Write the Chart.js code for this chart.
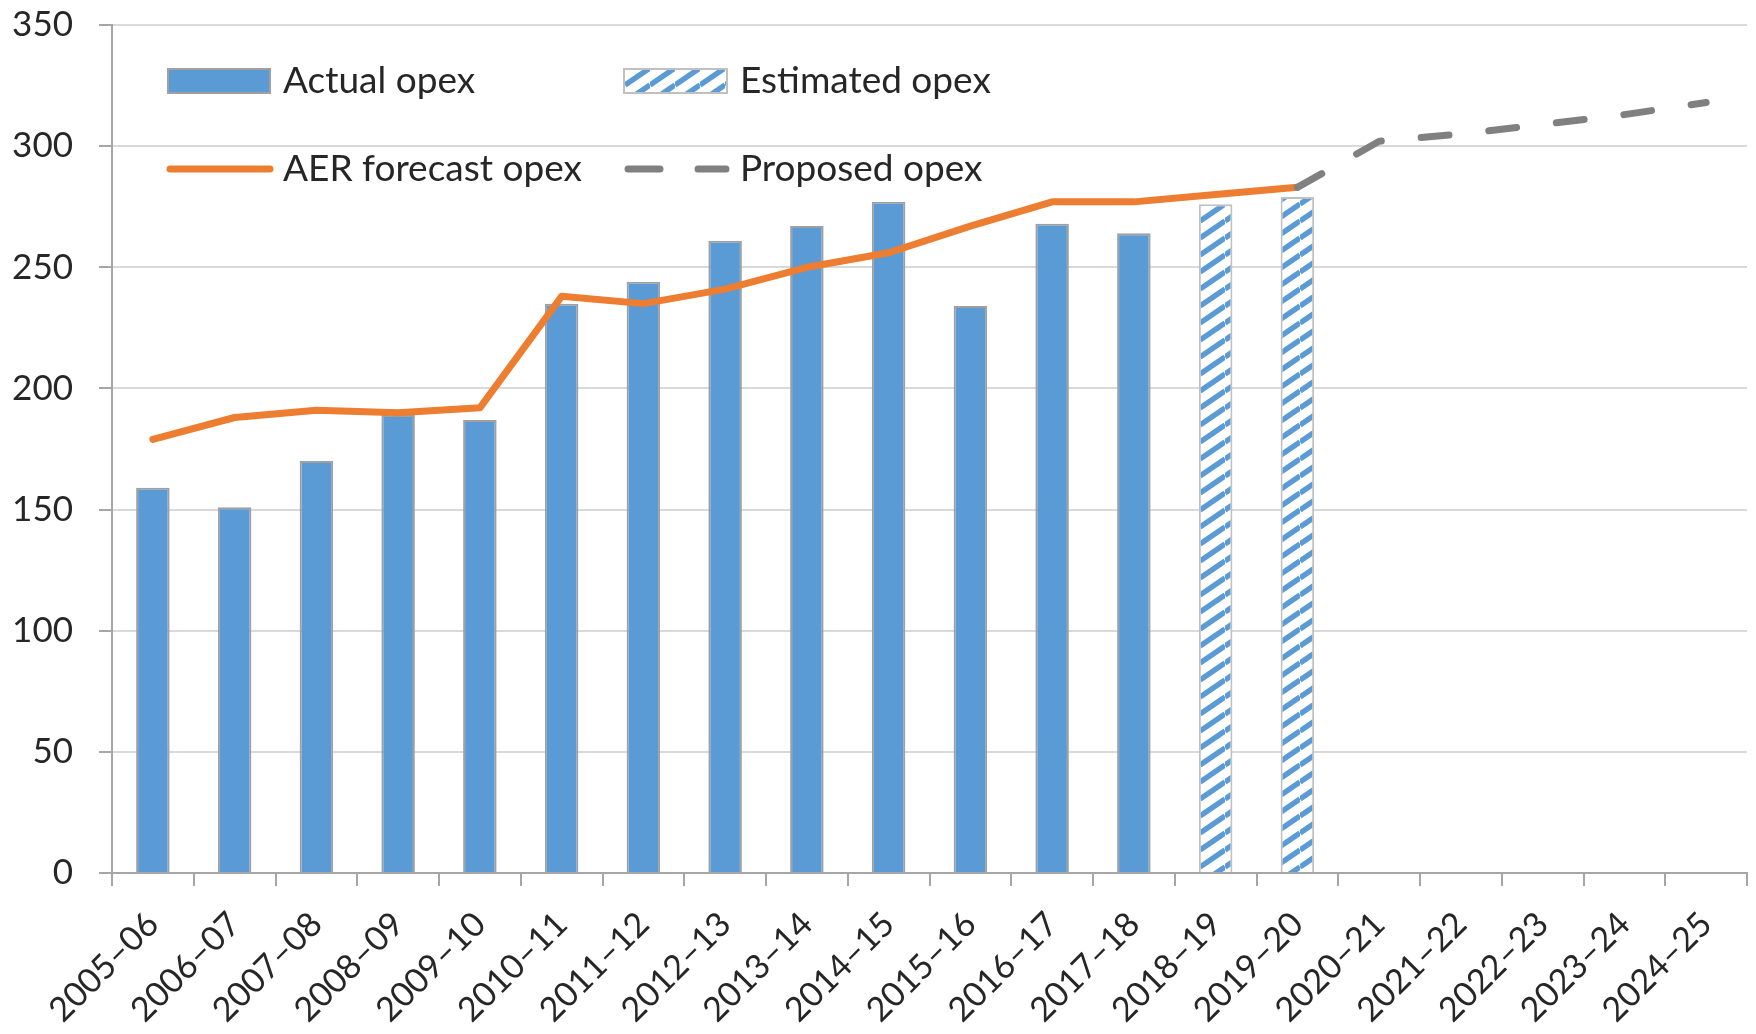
<!DOCTYPE html>
<html>
<head>
<meta charset="utf-8">
<script src="https://cdn.jsdelivr.net/npm/chart.js@4.4.1/dist/chart.umd.min.js"></script>
<style>
  html, body { margin: 0; padding: 0; background: #fff; }
  #wrap { width: 1756px; height: 1034px; }
</style>
</head>
<body>
<div id="wrap"><canvas id="opexChart" width="1756" height="1034"></canvas></div>
<script>
const years = ['2005–06', '2006–07', '2007–08', '2008–09', '2009–10', '2010–11', '2011–12',
  '2012–13', '2013–14', '2014–15', '2015–16', '2016–17', '2017–18', '2018–19', '2019–20',
  '2020–21', '2021–22', '2022–23', '2023–24', '2024–25'];

// values ($m)
const actualOpex    = [159, 151, 170, 189, 187, 235, 244, 261, 267, 277, 234, 268, 264,
  null, null, null, null, null, null, null];
const estimatedOpex = [null, null, null, null, null, null, null, null, null, null, null, null, null,
  276, 279, null, null, null, null, null];
const aerForecast   = [179, 188, 191, 190, 192, 238, 235, 241, 250, 256, 267, 277, 277,
  280, 283, null, null, null, null, null];
const proposedOpex  = [null, null, null, null, null, null, null, null, null, null, null, null, null,
  null, 283, 302, 305, 309, 313, 318];

const yTicks = [0, 50, 100, 150, 200, 250, 300, 350];

const BLUE = '#5b9bd5';
const ORANGE = '#ed7d31';
const GREY_LINE = '#808080';
const TEXT = '#262626';
const FONT = 'Lato, "Open Sans", sans-serif';

function hatch() {
  const w = 25, h = 17;
  const c = document.createElement('canvas');
  c.width = w; c.height = h;
  const g = c.getContext('2d');
  g.fillStyle = '#fff';
  g.fillRect(0, 0, w, h);
  g.strokeStyle = BLUE;
  g.lineWidth = 5.5;
  for (let k = -1; k <= 1; k++) {
    g.beginPath();
    g.moveTo(0, h + k * h);
    g.lineTo(w, k * h);
    g.stroke();
  }
  return g.createPattern(c, 'repeat');
}

const hatchFill = hatch();

const legendInPlot = {
  id: 'legendInPlot',
  afterDatasetsDraw(chart) {
    const ctx = chart.ctx;
    const a = chart.chartArea;
    const r1 = a.top + 56, r2 = a.top + 144;
    const c1 = a.left + 56, c2 = a.left + 512;
    ctx.save();
    ctx.textBaseline = 'middle';
    ctx.textAlign = 'left';

    ctx.fillStyle = BLUE;
    ctx.fillRect(c1, r1 - 12, 102, 24);
    ctx.strokeStyle = '#a0a0a0';
    ctx.lineWidth = 2;
    ctx.strokeRect(c1, r1 - 12, 102, 24);

    ctx.fillStyle = hatchFill;
    ctx.fillRect(c2, r1 - 12, 103, 24);
    ctx.strokeStyle = '#c0c0c0';
    ctx.strokeRect(c2, r1 - 12, 103, 24);

    ctx.lineCap = 'round';
    ctx.strokeStyle = ORANGE;
    ctx.lineWidth = 7;
    ctx.beginPath();
    ctx.moveTo(c1 + 2, r2); ctx.lineTo(c1 + 102, r2);
    ctx.stroke();

    ctx.strokeStyle = GREY_LINE;
    ctx.beginPath();
    ctx.moveTo(c2 + 4, r2); ctx.lineTo(c2 + 36, r2);
    ctx.moveTo(c2 + 74, r2); ctx.lineTo(c2 + 102, r2);
    ctx.stroke();

    ctx.font = '37px ' + FONT;
    ctx.fillStyle = TEXT;
    ctx.fillText('Actual opex', c1 + 115, r1);
    ctx.fillText('Estimated opex', c2 + 116, r1);
    ctx.fillText('AER forecast opex', c1 + 115, r2);
    ctx.fillText('Proposed opex', c2 + 116, r2);
    ctx.restore();
  }
};

new Chart(document.getElementById('opexChart'), {
  data: {
    labels: years,
    datasets: [
      { type: 'line', label: 'AER forecast opex', data: aerForecast, borderColor: ORANGE,
        borderWidth: 7, pointRadius: 0, tension: 0, borderCapStyle: 'round', borderJoinStyle: 'round',
        order: 1 },
      { type: 'line', label: 'Proposed opex', data: proposedOpex, borderColor: GREY_LINE,
        borderWidth: 7, pointRadius: 0, tension: 0, borderDash: [28, 40], borderCapStyle: 'round',
        order: 0 },
      { type: 'bar', label: 'Actual opex', data: actualOpex, backgroundColor: BLUE,
        borderColor: '#a0a0a0', borderWidth: 2, borderSkipped: 'start', skipNull: true,
        barPercentage: 1, categoryPercentage: 0.41, order: 3 },
      { type: 'bar', label: 'Estimated opex', data: estimatedOpex, backgroundColor: hatchFill,
        borderColor: '#c0c0c0', borderWidth: 2, borderSkipped: 'start', skipNull: true,
        barPercentage: 1, categoryPercentage: 0.41, order: 2 },
    ]
  },
  options: {
    responsive: false,
    animation: false,
    events: [],
    layout: { padding: { top: 25, right: 9, left: 0, bottom: 0 } },
    plugins: { legend: { display: false }, tooltip: { enabled: false } },
    scales: {
      x: {
        offset: true,
        grid: { offset: true, drawOnChartArea: false, drawTicks: true, tickLength: 13,
          color: '#a6a6a6', lineWidth: 2 },
        border: { color: '#a6a6a6', width: 2 },
        ticks: { color: TEXT, font: { family: FONT, size: 34 }, minRotation: 45, maxRotation: 45,
          autoSkip: false, padding: 18 },
        afterFit(s) { s.height = 161; s.paddingLeft = 0; s.paddingRight = 0; }
      },
      y: {
        min: 0, max: 350,
        afterBuildTicks(s) { s.ticks = yTicks.map(v => ({ value: v })); },
        grid: { color: '#d9d9d9', lineWidth: 2, tickLength: 13, tickColor: '#a6a6a6' },
        border: { color: '#a6a6a6', width: 2 },
        ticks: { color: TEXT, font: { family: FONT, size: 35 }, padding: 26 },
        afterFit(s) { s.width = 112; s.paddingTop = 0; s.paddingBottom = 0; }
      }
    }
  },
  plugins: [legendInPlot]
});
</script>
</body>
</html>
